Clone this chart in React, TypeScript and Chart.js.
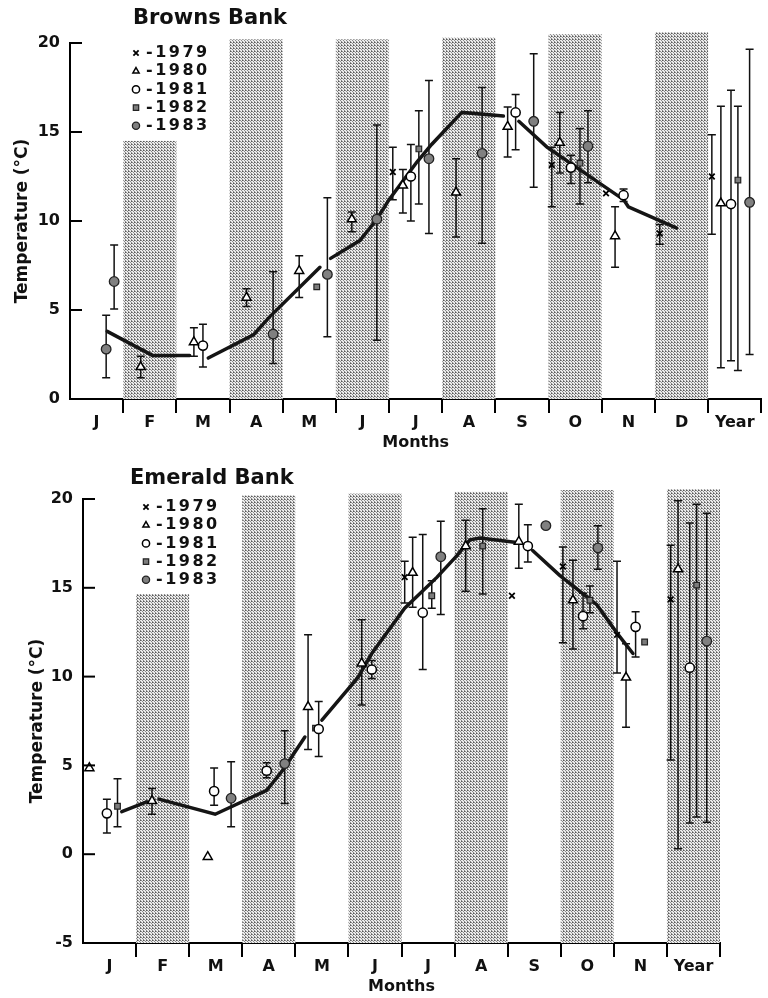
import React, { useEffect, useRef } from 'react';
import { Chart, registerables } from 'chart.js';

Chart.register(...registerables);

const FONT = "'DejaVu Sans', 'Liberation Sans', sans-serif";

// [position along month axis, mean, lower, upper]
type Pt = [number, number, number | null, number | null];

// ---------- Browns Bank ----------
const brownsMonths = ['J', 'F', 'M', 'A', 'M', 'J', 'J', 'A', 'S', 'O', 'N', 'D', 'Year'];
const browns1979: Pt[] = [
  [6.07, 12.75, 11.2, 14.15], [9.06, 13.15, 10.8, 14.15], [10.08, 11.55, null, null],
  [11.09, 9.3, 8.7, 9.8], [12.07, 12.5, 9.25, 14.85],
];
const browns1980: Pt[] = [
  [1.33, 1.8, 1.2, 2.4], [2.33, 3.2, 2.4, 4.0], [3.32, 5.7, 5.2, 6.2], [4.31, 7.2, 5.7, 8.05],
  [5.3, 10.1, 9.4, 10.5], [6.26, 12.0, 10.45, 12.9], [7.26, 11.6, 9.1, 13.5], [8.23, 15.3, 13.6, 16.4],
  [9.21, 14.4, 12.7, 16.1], [10.25, 9.15, 7.4, 10.8], [12.24, 11.0, 1.75, 16.45],
];
const browns1981: Pt[] = [
  [2.5, 3.0, 1.8, 4.2], [6.41, 12.5, 10.0, 14.3], [8.38, 16.1, 14.0, 17.1], [9.42, 13.0, 12.1, 13.7],
  [10.41, 11.45, 11.1, 11.8], [12.43, 10.95, 2.15, 17.35],
];
const browns1982: Pt[] = [
  [4.64, 6.3, null, null], [6.56, 14.05, 10.95, 16.2], [9.59, 13.25, 10.95, 15.2], [12.56, 12.3, 1.6, 16.45],
];
const browns1983: Pt[] = [
  [0.68, 2.8, 1.2, 4.7], [0.83, 6.6, 5.05, 8.65], [3.82, 3.65, 2.0, 7.15], [4.84, 7.0, 3.5, 11.3],
  [5.77, 10.1, 3.3, 15.4], [6.75, 13.5, 9.3, 17.9], [7.75, 13.8, 8.75, 17.5], [8.72, 15.6, 11.9, 19.4],
  [9.74, 14.2, 12.15, 16.2], [12.78, 11.05, 2.5, 19.65],
];
const brownsMean: [number, number | null][] = [
  [0.7, 3.8], [1.55, 2.45], [2.25, 2.45], [2.4, null], [2.6, 2.3], [3.45, 3.6], [3.75, 4.6], [4.7, 7.4],
  [4.8, null], [4.9, 7.9], [5.45, 8.9], [5.77, 10.1], [6.0, 11.2], [6.52, 13.3], [6.8, 14.3],
  [7.37, 16.1], [8.15, 15.9], [8.3, null], [8.44, 15.6], [8.97, 14.15], [10.41, 11.2], [10.5, 10.8],
  [11.41, 9.6],
];
const brownsBandMonths = [1, 3, 5, 7, 9, 11];
const brownsBandTops = [14.5, 20.2, 20.2, 20.3, 20.5, 20.6];

// ---------- Emerald Bank ----------
const emeraldMonths = ['J', 'F', 'M', 'A', 'M', 'J', 'J', 'A', 'S', 'O', 'N', 'Year'];
const emerald1979: Pt[] = [
  [6.06, 15.6, 14.15, 16.5], [8.08, 14.55, null, null], [9.04, 16.2, 11.9, 17.3],
  [10.06, 12.35, 10.2, 16.5], [11.07, 14.35, 5.3, 17.4],
];
const emerald1980: Pt[] = [
  [0.12, 4.85, null, null], [1.3, 3.0, 2.25, 3.7], [2.35, -0.15, null, null], [4.24, 8.3, 5.9, 12.35],
  [5.25, 10.75, 8.4, 13.2], [6.21, 15.85, 13.9, 17.85], [7.21, 17.35, 14.8, 18.8], [8.21, 17.6, 16.1, 19.7],
  [9.23, 14.3, 11.55, 16.55], [10.23, 9.95, 7.15, 11.85], [11.21, 16.05, 0.3, 19.9],
];
const emerald1981: Pt[] = [
  [0.45, 2.3, 1.2, 3.1], [2.47, 3.55, 2.75, 4.85], [3.46, 4.7, 4.3, 5.15], [4.44, 7.05, 5.5, 8.6],
  [5.44, 10.4, 9.9, 10.9], [6.4, 13.6, 10.4, 18.0], [8.38, 17.35, 16.45, 18.55], [9.42, 13.4, 12.7, 14.7],
  [10.41, 12.8, 11.1, 13.65], [11.43, 10.5, 1.75, 18.65],
];
const emerald1982: Pt[] = [
  [0.65, 2.7, 1.55, 4.25], [4.38, 7.1, null, null], [6.57, 14.55, 13.85, 15.4], [7.53, 17.35, 14.65, 19.45],
  [9.55, 14.3, 13.6, 15.1], [10.58, 11.95, null, null], [11.56, 15.15, 2.1, 19.7],
];
const emerald1983: Pt[] = [
  [2.79, 3.15, 1.55, 5.2], [3.8, 5.1, 2.85, 6.95], [6.74, 16.75, 13.5, 18.75], [8.72, 18.5, null, null],
  [9.7, 17.25, 16.05, 18.5], [11.75, 12.0, 1.8, 19.2],
];
const emeraldMean: [number, number | null][] = [
  [0.73, 2.4], [1.2, 2.95], [1.3, null], [1.43, 3.1], [2.49, 2.25], [3.46, 3.6], [3.77, 4.75],
  [4.18, 6.6], [4.35, null], [4.5, 7.55], [5.18, 9.95], [5.44, 11.3], [6.06, 13.85], [6.67, 15.6],
  [7.04, 16.8], [7.29, 17.7], [7.48, 17.8], [8.17, 17.55], [8.3, null], [8.47, 17.1], [8.98, 15.7],
  [9.68, 14.05], [10.06, 12.45], [10.36, 11.3],
];
const emeraldBandMonths = [1, 3, 5, 7, 9, 11];
const emeraldBandTops = [14.65, 20.2, 20.3, 20.4, 20.5, 20.55];

const yearLabels = ['1979', '1980', '1981', '1982', '1983'];

type MStyle = { pointStyle: string; radius: number; bg: string; border: string; bw: number };
const markerStyles: MStyle[] = [
  { pointStyle: 'crossRot', radius: 4, bg: '#000', border: '#000', bw: 1.8 },
  { pointStyle: 'triangle', radius: 5.2, bg: '#fff', border: '#000', bw: 1.5 },
  { pointStyle: 'circle', radius: 4.6, bg: '#fff', border: '#000', bw: 1.5 },
  { pointStyle: 'rect', radius: 4, bg: '#7c7c7c', border: '#222', bw: 1.2 },
  { pointStyle: 'circle', radius: 4.8, bg: '#808080', border: '#222', bw: 1.3 },
];

function drawMarker(ctx: CanvasRenderingContext2D, s: MStyle, x: number, y: number, r: number) {
  ctx.save();
  ctx.lineWidth = s.bw;
  ctx.strokeStyle = s.border;
  ctx.fillStyle = s.bg;
  ctx.beginPath();
  if (s.pointStyle === 'crossRot') {
    const d = r * 0.75;
    ctx.moveTo(x - d, y - d); ctx.lineTo(x + d, y + d);
    ctx.moveTo(x + d, y - d); ctx.lineTo(x - d, y + d);
    ctx.stroke();
  } else if (s.pointStyle === 'triangle') {
    ctx.moveTo(x, y - r); ctx.lineTo(x + r * 0.866, y + r * 0.5); ctx.lineTo(x - r * 0.866, y + r * 0.5);
    ctx.closePath(); ctx.fill(); ctx.stroke();
  } else if (s.pointStyle === 'rect') {
    ctx.rect(x - r * 0.75, y - r * 0.75, r * 1.5, r * 1.5); ctx.fill(); ctx.stroke();
  } else {
    ctx.arc(x, y, r, 0, Math.PI * 2); ctx.fill(); ctx.stroke();
  }
  ctx.restore();
}

const decorPlugin = {
  id: 'bankDecor',
  beforeDatasetsDraw(chart: any, _args: any, opts: any) {
    const { ctx, chartArea } = chart;
    const xs = chart.scales.x;
    const ys = chart.scales.y;
    // stippled bands
    const tile = document.createElement('canvas');
    tile.width = 3; tile.height = 3;
    const g = tile.getContext('2d')!;
    g.fillStyle = '#ececec'; g.fillRect(0, 0, 3, 3);
    g.fillStyle = '#8a8a8a'; g.fillRect(0, 0, 1, 1); g.fillRect(1, 1, 1, 1); g.fillRect(2, 2, 1, 1);
    g.fillStyle = '#5a5a5a'; g.fillRect(2, 0, 1, 1);
    const pat = ctx.createPattern(tile, 'repeat');
    ctx.save();
    ctx.fillStyle = pat;
    opts.bandMonths.forEach((m: number, i: number) => {
      const x0 = xs.getPixelForValue(m);
      const x1 = xs.getPixelForValue(m + 1);
      const yTop = ys.getPixelForValue(opts.bandTops[i]);
      ctx.fillRect(x0, yTop, x1 - x0, chartArea.bottom - yTop);
    });
    ctx.restore();
    // error bars
    ctx.save();
    ctx.strokeStyle = '#111';
    ctx.lineWidth = 1.5;
    chart.data.datasets.forEach((ds: any) => {
      if (!ds.errorBars) return;
      ds.data.forEach((d: any) => {
        if (d.lo == null || d.hi == null) return;
        const x = xs.getPixelForValue(d.x);
        const yl = ys.getPixelForValue(d.lo);
        const yh = ys.getPixelForValue(d.hi);
        ctx.beginPath();
        ctx.moveTo(x, yl); ctx.lineTo(x, yh);
        ctx.moveTo(x - 4, yl); ctx.lineTo(x + 4, yl);
        ctx.moveTo(x - 4, yh); ctx.lineTo(x + 4, yh);
        ctx.stroke();
      });
    });
    ctx.restore();
  },
  afterDraw(chart: any, _args: any, opts: any) {
    const { ctx, chartArea } = chart;
    const ys = chart.scales.y;
    // inward y ticks
    ctx.save();
    ctx.strokeStyle = '#000';
    ctx.lineWidth = 2;
    ys.ticks.forEach((t: any) => {
      if (t.value === ys.min) return;
      const y = ys.getPixelForValue(t.value);
      ctx.beginPath();
      ctx.moveTo(chartArea.left, y); ctx.lineTo(chartArea.left + 12, y);
      ctx.stroke();
    });
    ctx.restore();
    // title
    ctx.save();
    ctx.fillStyle = '#111';
    ctx.font = `bold 21px ${FONT}`;
    ctx.textBaseline = 'middle';
    ctx.textAlign = 'left';
    ctx.fillText(opts.title, opts.titleX, opts.titleY);
    // legend
    ctx.font = `bold 16px ${FONT}`;
    (ctx as any).letterSpacing = '2.5px';
    yearLabels.forEach((lab, i) => {
      const y = chartArea.top + opts.legendTop + i * opts.legendStep;
      drawMarker(ctx, markerStyles[i], opts.legendX, y, i === 0 ? 3.5 : 3.6);
      ctx.fillText('-' + lab, opts.legendX + 10, y);
    });
    ctx.restore();
  },
};

function toData(arr: Pt[]) {
  return arr.map(([x, y, lo, hi]) => ({ x, y, lo, hi }));
}

type BankProps = {
  top: number;
  height: number;
  title: string;
  months: string[];
  series: Pt[][];
  mean: [number, number | null][];
  bandMonths: number[];
  bandTops: number[];
  yMin: number;
  pad: { top: number; right: number };
  yWidth: number;
  xHeight: number;
  yTitlePad: number;
  xTitlePad: number;
  titleX: number;
  legendX: number;
  legendTop: number;
};

function BankChart(p: BankProps) {
  const ref = useRef<HTMLCanvasElement>(null);
  useEffect(() => {
    const labels = p.months;
    const datasets: any[] = p.series.map((s, i) => ({
      label: yearLabels[i],
      type: 'line',
      data: toData(s),
      showLine: false,
      errorBars: true,
      pointStyle: markerStyles[i].pointStyle,
      pointRadius: markerStyles[i].radius,
      pointBackgroundColor: markerStyles[i].bg,
      pointBorderColor: markerStyles[i].border,
      pointBorderWidth: markerStyles[i].bw,
      borderColor: '#000',
    }));
    datasets.push({
      label: 'mean',
      type: 'line',
      data: p.mean.map(([x, y]) => ({ x, y })),
      borderColor: '#151515',
      borderWidth: 3.5,
      borderCapStyle: 'round',
      pointRadius: 0,
      spanGaps: false,
      tension: 0,
    });
    const chart = new Chart(ref.current!, {
      type: 'line',
      data: { datasets },
      plugins: [decorPlugin as any],
      options: {
        responsive: false,
        animation: false,
        events: [],
        layout: { padding: { top: p.pad.top, right: p.pad.right, left: 0, bottom: 0 } },
        plugins: {
          legend: { display: false },
          tooltip: { enabled: false },
          title: { display: false },
          bankDecor: {
            title: p.title,
            titleX: p.titleX,
            titleY: 19,
            bandMonths: p.bandMonths,
            bandTops: p.bandTops,
            legendX: p.legendX,
            legendTop: p.legendTop,
            legendStep: 18.2,
          },
        } as any,
        scales: {
          x: {
            type: 'linear',
            min: 0,
            max: labels.length,
            afterBuildTicks: (scale: any) => {
              const t: any[] = [];
              for (let v = 0; v <= labels.length; v += 0.5) t.push({ value: v });
              scale.ticks = t;
            },
            afterFit: (scale: any) => { scale.height = p.xHeight; },
            ticks: {
              autoSkip: false,
              maxRotation: 0,
              minRotation: 0,
              padding: 0,
              color: '#111',
              font: { family: FONT, size: 16, weight: 'bold' },
              callback: (v: any) => {
                const n = Number(v);
                return Number.isInteger(n) ? '' : labels[Math.floor(n)];
              },
            },
            grid: {
              display: true,
              drawOnChartArea: false,
              drawTicks: true,
              tickLength: 14,
              lineWidth: 2,
              color: (c: any) =>
                c.tick && Number.isInteger(c.tick.value) && c.tick.value > 0 ? '#000' : 'rgba(0,0,0,0)',
            },
            border: { display: true, color: '#000', width: 2 },
            title: {
              display: true,
              text: 'Months',
              color: '#111',
              font: { family: FONT, size: 16, weight: 'bold' },
              padding: { top: 0, bottom: p.xTitlePad },
            },
          } as any,
          y: {
            type: 'linear',
            min: p.yMin,
            max: 20,
            afterFit: (scale: any) => { scale.width = p.yWidth; },
            ticks: {
              stepSize: 5,
              padding: 2,
              color: '#111',
              font: { family: FONT, size: 16, weight: 'bold' },
            },
            grid: { display: false, drawTicks: true, tickLength: 8 },
            border: { display: true, color: '#000', width: 2 },
            title: {
              display: true,
              text: 'Temperature (°C)',
              color: '#111',
              font: { family: FONT, size: 17, weight: 'bold' },
              padding: { top: p.yTitlePad, bottom: 0 },
            },
          } as any,
        },
      },
    });
    return () => chart.destroy();
  }, []);
  return (
    <canvas
      ref={ref}
      width={768}
      height={p.height}
      style={{ position: 'absolute', left: 0, top: p.top, width: 768, height: p.height }}
    />
  );
}

export default function App() {
  return (
    <div style={{ position: 'absolute', left: 0, top: 0, width: 768, height: 998, background: '#fff', overflow: 'hidden' }}>
      <BankChart
        top={0}
        height={460}
        title="Browns Bank"
        months={brownsMonths}
        series={[browns1979, browns1980, browns1981, browns1982, browns1983]}
        mean={brownsMean}
        bandMonths={brownsBandMonths}
        bandTops={brownsBandTops}
        yMin={0}
        pad={{ top: 43, right: 6 }}
        yWidth={70}
        xHeight={61}
        yTitlePad={12}
        xTitlePad={8}
        titleX={133}
        legendX={136}
        legendTop={10}
      />
      <BankChart
        top={460}
        height={538}
        title="Emerald Bank"
        months={emeraldMonths}
        series={[emerald1979, emerald1980, emerald1981, emerald1982, emerald1983]}
        mean={emeraldMean}
        bandMonths={emeraldBandMonths}
        bandTops={emeraldBandTops}
        yMin={-5}
        pad={{ top: 39, right: 48 }}
        yWidth={83}
        xHeight={55}
        yTitlePad={27}
        xTitlePad={2}
        titleX={130}
        legendX={146}
        legendTop={8}
      />
    </div>
  );
}
